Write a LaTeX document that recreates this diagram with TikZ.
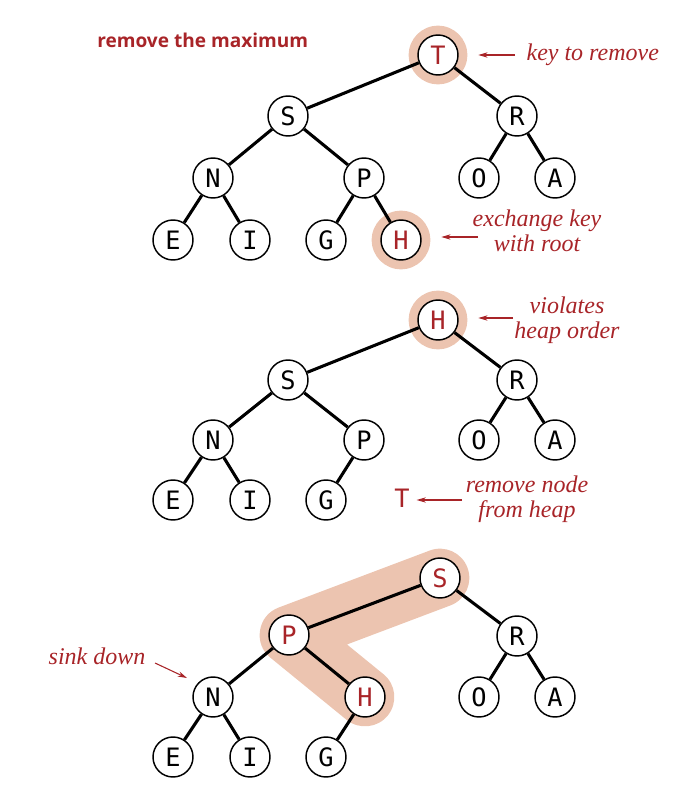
\documentclass[tikz,border=0pt]{standalone}
\usepackage{fontspec}
\newfontfamily\keyfont{DejaVu Sans Mono}
\newfontfamily\labfont{Liberation Serif}
\newfontfamily\titfont{Open Sans}
\usetikzlibrary{arrows.meta,backgrounds}
\definecolor{hred}{RGB}{168,36,40}
\definecolor{halo}{RGB}{236,196,176}
\begin{document}
\begin{tikzpicture}[x=0.75pt,y=-0.75pt,
 key/.style={circle,draw=black,line width=1.1pt,fill=white,minimum size=30pt,inner sep=0pt,font=\keyfont\fontsize{19}{19}\selectfont},
 redkey/.style={key,text=hred},
 edge/.style={line width=2.3pt},
 halonode/.style={circle,fill=halo,minimum size=44pt,inner sep=0pt},
 lab/.style={text=hred,font=\labfont\itshape\fontsize{18}{19}\selectfont,align=center,inner sep=1pt},
 note/.style={draw=hred,line width=0.8pt,-{Stealth[length=7pt,width=4pt]}}
]
\useasboundingbox (0,0) rectangle (694,806);

\node[text=hred,anchor=west,inner sep=0pt,font=\titfont\bfseries\fontsize{14.3}{15}\selectfont] (title) at (97,40) {remove the maximum};

% ---- tree 1
\node[halonode] (t1halo) at (438,55) {};
\node[halonode] (h1halo) at (401,240) {};
\node[redkey] (t1) at (438,55) {T};
\node[key] (s1) at (288,116) {S};
\node[key] (r1) at (517,116) {R};
\node[key] (n1) at (213,178) {N};
\node[key] (p1) at (364,178) {P};
\node[key] (o1) at (479,178) {O};
\node[key] (a1) at (555,178) {A};
\node[key] (e1) at (173,240) {E};
\node[key] (i1) at (250,240) {I};
\node[key] (g1) at (326,240) {G};
\node[redkey] (h1) at (401,240) {H};
\foreach \u/\v in {t1/s1,t1/r1,s1/n1,s1/p1,r1/o1,r1/a1,n1/e1,n1/i1,p1/g1,p1/h1}
  \draw[edge] (\u) -- (\v);

\node[lab,anchor=west] (k1) at (525,55) {key to remove};
\coordinate (a1s) at (515,55);
\draw[note,shorten >=8pt] (a1s) -- (t1halo.east);
\node[lab] (k2) at (537,231) {exchange key\\with root};
\coordinate (a2s) at (478,237);
\draw[note,shorten >=8pt] (a2s) -- (h1halo.east |- a2s);

% ---- tree 2
\node[halonode] (h2halo) at (438,320) {};
\node[redkey] (h2) at (438,320) {H};
\node[key] (s2) at (288,380) {S};
\node[key] (r2) at (517,380) {R};
\node[key] (n2) at (213,440) {N};
\node[key] (p2) at (364,440) {P};
\node[key] (o2) at (479,440) {O};
\node[key] (a2) at (555,440) {A};
\node[key] (e2) at (173,500) {E};
\node[key] (i2) at (250,500) {I};
\node[key] (g2) at (326,500) {G};
\node[text=hred,font=\keyfont\fontsize{19}{19}\selectfont,inner sep=1pt] (t2) at (402,498) {T};
\foreach \u/\v in {h2/s2,h2/r2,s2/n2,s2/p2,r2/o2,r2/a2,n2/e2,n2/i2,p2/g2}
  \draw[edge] (\u) -- (\v);

\node[lab] (k3) at (567,320) {violates\\heap order};
\coordinate (a3s) at (513,318);
\draw[note,shorten >=8pt] (a3s) -- (h2halo.east |- a3s);
\node[lab] (k4) at (527,499) {remove node\\from heap};
\coordinate (a4s) at (462,500);
\draw[note,shorten >=4pt] (a4s) -- (t2.east |- a4s);

% ---- tree 3
\node[key,text=hred] (s3) at (440,578) {S};
\node[redkey] (p3) at (289,635) {P};
\node[key] (r3) at (517,636) {R};
\node[key] (n3) at (213,697) {N};
\node[redkey] (h3) at (365,697) {H};
\node[key] (o3) at (479,697) {O};
\node[key] (a3) at (555,697) {A};
\node[key] (e3) at (173,757) {E};
\node[key] (i3) at (250,757) {I};
\node[key] (g3) at (326,757) {G};
\begin{scope}[on background layer]
  \draw[halo,line width=44pt,line cap=round,line join=round] (s3.center) -- (p3.center) -- (h3.center);
\end{scope}
\foreach \u/\v in {s3/p3,s3/r3,p3/n3,p3/h3,r3/o3,r3/a3,n3/e3,n3/i3,h3/g3}
  \draw[edge] (\u) -- (\v);

\node[lab] (k5) at (97,656) {sink down};
\coordinate (a5s) at (155,663);
\draw[note] (a5s) -- (187,678);
\end{tikzpicture}
\end{document}
